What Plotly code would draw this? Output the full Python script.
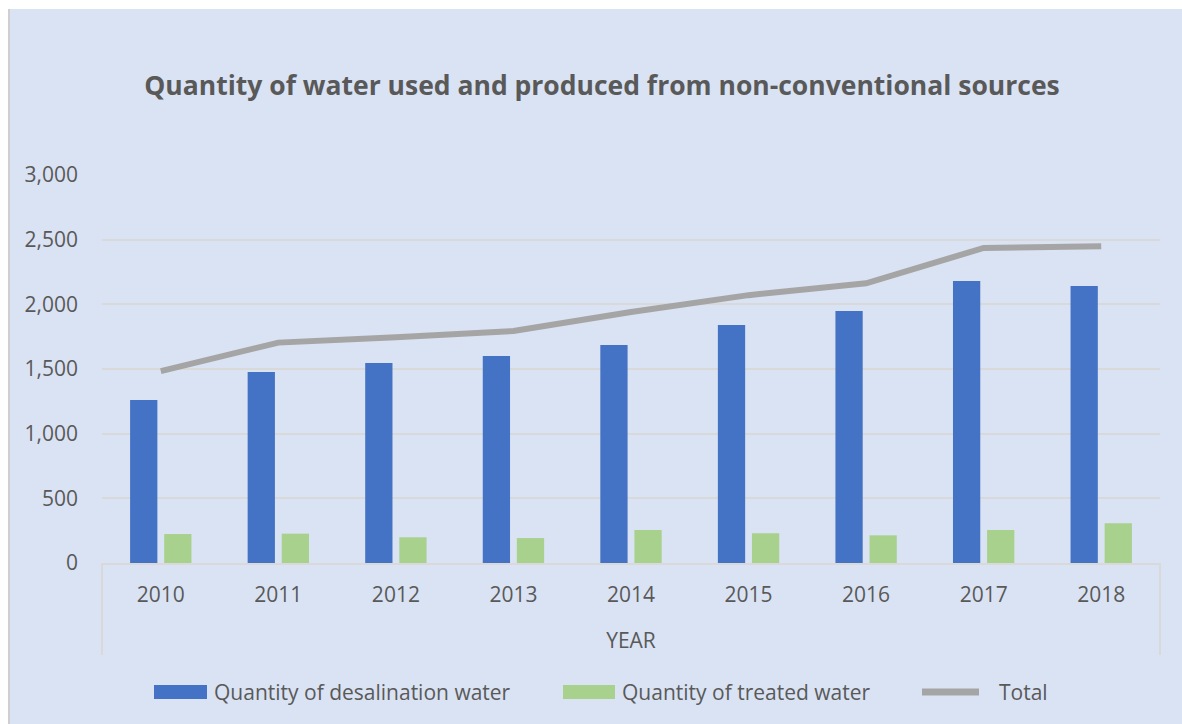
import plotly.graph_objects as go

years = ["2010", "2011", "2012", "2013", "2014", "2015", "2016", "2017", "2018"]
desalination = [1260, 1477, 1547, 1601, 1686, 1841, 1949, 2181, 2142]
treated = [224, 227, 199, 193, 255, 230, 214, 255, 307]
total = [1484, 1704, 1746, 1794, 1941, 2071, 2163, 2436, 2449]
y_ticks = [0, 500, 1000, 1500, 2000, 2500, 3000]
series_names = ["Quantity of desalination water", "Quantity of treated water", "Total"]

BG = "#DAE3F3"
TXT = "#595959"
GRID = "#D9D9D9"
BLUE = "#4472C4"
GREEN = "#A9D18E"
GRAY = "#A5A5A5"
FONT = "Open Sans"

fig = go.Figure()
fig.add_trace(go.Bar(x=years, y=desalination, name=series_names[0], showlegend=False,
                     marker=dict(color=BLUE, line=dict(width=0))))
fig.add_trace(go.Bar(x=years, y=treated, name=series_names[1], showlegend=False,
                     marker=dict(color=GREEN, line=dict(width=0))))
fig.add_trace(go.Scatter(x=years, y=total, name=series_names[2], mode="lines", showlegend=False,
                         line=dict(color=GRAY, width=6)))

W, H = 1182, 724
L, T, B, R = 102, 175, 161, 22
pw, ph = W - L - R, H - T - B


def px_x(p):
    return (p - L) / pw


def px_y(p):
    return (H - B - p) / ph


shapes = [
    # white outer strips (top / left)
    dict(type="rect", xref="paper", yref="paper",
         x0=px_x(-2), x1=px_x(W + 2), y0=px_y(9), y1=px_y(-2),
         fillcolor="white", line=dict(width=0)),
    dict(type="rect", xref="paper", yref="paper",
         x0=px_x(-2), x1=px_x(8), y0=px_y(H + 2), y1=px_y(-2),
         fillcolor="white", line=dict(width=0)),
    # chart border (left)
    dict(type="line", xref="paper", yref="paper",
         x0=px_x(9), x1=px_x(9), y0=px_y(H + 5), y1=px_y(9),
         line=dict(color="#D0CECE", width=2)),
    # category axis box sides
    dict(type="line", xref="paper", yref="paper", layer="below",
         x0=0, x1=0, y0=0, y1=px_y(655), line=dict(color=GRID, width=2)),
    dict(type="line", xref="paper", yref="paper", layer="below",
         x0=1, x1=1, y0=0, y1=px_y(655), line=dict(color=GRID, width=2)),
]

# custom legend (swatches + labels)
leg_y = 692
annotations = []
legend_items = [
    ("rect", BLUE, 154, 207, series_names[0], 212),
    ("rect", GREEN, 563, 615, series_names[1], 620),
    ("line", GRAY, 922, 979, series_names[2], 997),
]
for kind, col, x0, x1, label, tx in legend_items:
    if kind == "rect":
        shapes.append(dict(type="rect", xref="paper", yref="paper",
                           x0=px_x(x0), x1=px_x(x1), y0=px_y(leg_y + 7), y1=px_y(leg_y - 7),
                           fillcolor=col, line=dict(width=0)))
    else:
        shapes.append(dict(type="line", xref="paper", yref="paper",
                           x0=px_x(x0), x1=px_x(x1), y0=px_y(leg_y), y1=px_y(leg_y),
                           line=dict(color=col, width=7)))
    annotations.append(dict(text=label, xref="paper", yref="paper", x=px_x(tx), y=px_y(leg_y),
                            xanchor="left", yanchor="middle", showarrow=False,
                            font=dict(family=FONT, size=21, color=TXT)))

fig.update_layout(
    width=W, height=H,
    margin=dict(l=L, r=R, t=T, b=B, pad=0),
    paper_bgcolor=BG,
    plot_bgcolor=BG,
    font=dict(family=FONT, color=TXT, size=21),
    title=dict(text="<b>Quantity of water used and produced from non-conventional sources</b>",
               x=602 / W, xanchor="center", y=1 - 86 / H, yanchor="middle",
               font=dict(family=FONT, size=26.5, color=TXT)),
    barmode="group", bargap=0.42, bargroupgap=0.2,
    shapes=shapes,
    annotations=annotations,
    hovermode=False,
    xaxis=dict(showgrid=False, showline=True, linecolor=GRID, linewidth=2,
               ticks="", ticklabelstandoff=12, tickfont=dict(size=21, color=TXT),
               title=dict(text="YEAR", font=dict(size=21, color=TXT), standoff=26),
               fixedrange=True),
    yaxis=dict(range=[0, 3000], tickvals=y_ticks, tickformat=",", showgrid=True,
               gridcolor=GRID, gridwidth=1.5, zeroline=False, showline=False,
               ticks="", ticklabelstandoff=23, tickfont=dict(size=21, color=TXT),
               fixedrange=True),
)

fig.write_html("out.html",
               config={"displayModeBar": False},
               post_script="document.body.style.margin='0px';document.body.style.overflow='hidden';")
